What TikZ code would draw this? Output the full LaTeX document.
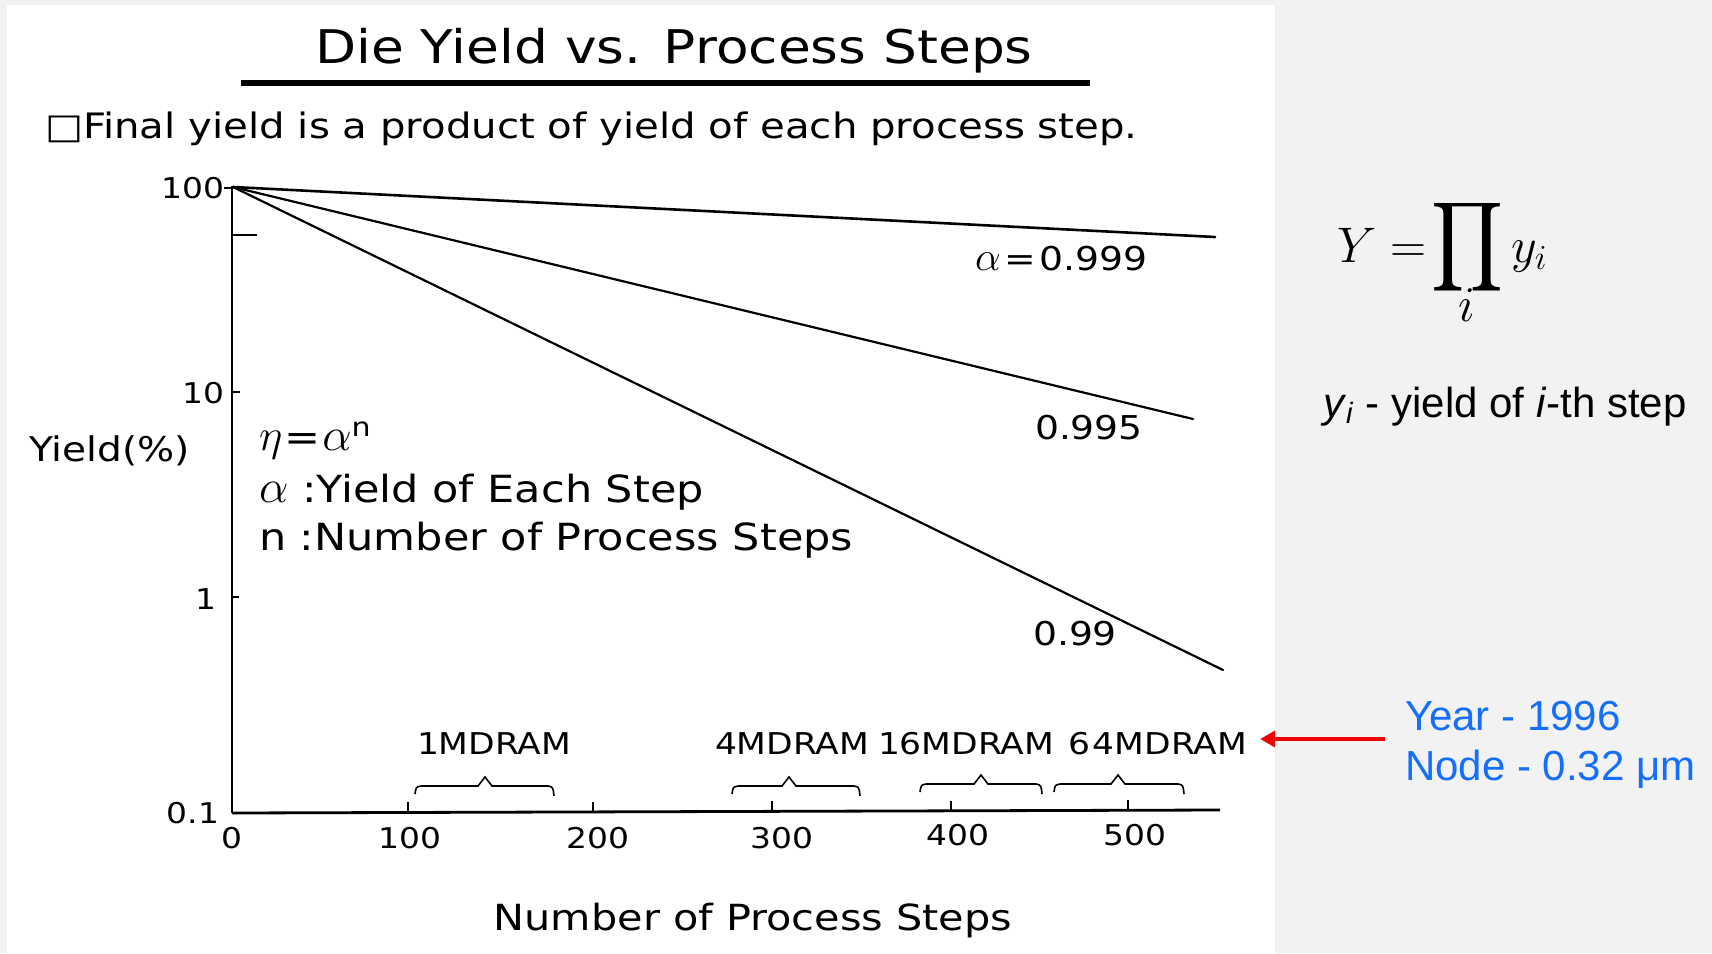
\RequirePackage{fix-cm}
\documentclass[tikz,border=0pt]{standalone}
\usepackage{fontspec}
\usepackage{graphicx}
\usetikzlibrary{arrows.meta}
\setmainfont{Liberation Sans}
\newfontfamily\scanfont[FakeStretch=1.15]{DejaVu Sans}
\newfontfamily\slidefont{Liberation Sans}
\newcommand\fsz[1]{\fontsize{#1}{#1}\selectfont}
\newcommand\galpha{\scalebox{1.25}{$\alpha$}}
\newcommand\geta{\scalebox{1.2}{$\eta$}}
\definecolor{slidegray}{HTML}{F2F2F2}
\definecolor{noteblue}{RGB}{20,110,255}
\definecolor{arrowred}{RGB}{240,0,0}

\begin{document}
\begin{tikzpicture}[x=0.5pt,y=-0.5pt,
  txt/.style={inner sep=0pt, outer sep=0pt},
  scantxt/.style={txt, anchor=base west},
  ylab/.style={txt, anchor=east, font=\scanfont\fsz{14.3pt}},
  xlab/.style={txt, anchor=base, font=\scanfont\fsz{14.3pt}},
  dram/.style={scantxt, font=\scanfont\fsz{15pt}},
  curvelab/.style={scantxt, font=\scanfont\fsz{16.4pt}},
  legend/.style={scantxt, font=\scanfont\fsz{18.7pt}},
  curve/.style={line width=1.1pt, line cap=round},
  axisline/.style={line width=0.9pt},
  tickline/.style={line width=0.7pt},
  bracket/.style={line width=0.8pt, line join=miter},
  mathtxt/.style={txt, font=\fsz{25pt}},
  slidetxt/.style={txt, font=\slidefont\fsz{21pt}}]

% slide background and the white scanned sheet
\fill[slidegray] (0,0) rectangle (1712,953);
\fill[white] (7,5) rectangle (1275,953);
\useasboundingbox (0,0) rectangle (1712,953);

% heading
\node[txt, anchor=base, font=\scanfont\fsz{23.2pt}] (title) at (674,63) {Die Yield vs. Process Steps};
\draw[line width=3pt] (241,83) -- (1090,83);
\node[scantxt, font=\scanfont\fsz{17.5pt}] (sub) at (45,138) {□Final yield is a product of yield of each process step.};

% axes
\coordinate (origin) at (232,813);
\draw[axisline] (232,186) -- (origin);
\draw[line width=1.4pt] (origin) -- (1220,810);
\draw[tickline] (224,188) -- (233,188);
\draw[tickline] (232,235) -- (257,235);
\draw[tickline] (232,392) -- (240,392);
\draw[tickline] (232,597) -- (239,597);
\foreach \tx/\ty in {408/812, 593/812, 772/811, 951/811, 1128/810}
  \draw[tickline] (\tx,\ty) -- (\tx,\ty-10);

% axis labels
\node[ylab] (y100) at (224,188) {100};
\node[ylab] (y10) at (224,393) {10};
\node[ylab] (y1) at (216,599) {1};
\node[ylab] (y01) at (219,813) {0.1};
\node[xlab] (x0) at (232,848) {0};
\node[xlab] (x100) at (410,848) {100};
\node[xlab] (x200) at (598,848) {200};
\node[xlab] (x300) at (782,848) {300};
\node[xlab] (x400) at (958,845) {400};
\node[xlab] (x500) at (1135,845) {500};
\node[scantxt, font=\scanfont\fsz{17pt}] (ytitle) at (29,461) {Yield(\%)};
\node[txt, anchor=base, font=\scanfont\fsz{18pt}] (xtitle) at (753,930) {Number of Process Steps};

% yield curves  eta = alpha^n
\coordinate (start) at (233,187);
\coordinate (e999) at (1215,237);
\coordinate (e995) at (1193,419);
\coordinate (e99) at (1223,670);
\draw[curve, line width=1.3pt] (start) -- (e999);
\draw[curve] (start) -- (e995);
\draw[curve] (start) -- (e99);
\node[curvelab] (l999) at (975,270) {\galpha\kern2pt=\kern1.5pt0.999};
\node[curvelab] (l995) at (1035,439) {0.995};
\node[curvelab] (l99) at (1033,645) {0.99};

% legend
\node[legend] (eqn) at (259,450) {\geta\kern1pt=\kern1pt\galpha\textsuperscript{n}};
\node[legend] (alph) at (259,502) {\galpha\ :Yield of Each Step};
\node[legend] (nsteps) at (259,550) {n :Number of Process Steps};

% DRAM generations and their step ranges
\node[dram] (d1) at (417,754) {1MDRAM};
\node[dram] (d4) at (715,754) {4MDRAM};
\node[dram] (d16) at (878,754) {16MDRAM};
\node[dram] (d64) at (1068,754) {6\kern1.5pt4MDRAM};
\foreach \l/\p/\r/\yy in {415/485/554/786, 732/789/860/786, 920/981/1042/784, 1054/1118/1184/784}
  \draw[bracket] (\l,\yy+8) .. controls (\l+1,\yy+1) .. (\l+6,\yy) -- (\p-7,\yy) -- (\p,\yy-9) -- (\p+7,\yy) -- (\r-6,\yy) .. controls (\r-1,\yy+1) .. (\r,\yy+10);

% product formula
\node[mathtxt, anchor=base west] (lhs) at (1337,262) {$Y =$};
\node[txt] (prod) at (1467,247.5) {\resizebox*{36pt}{50pt}{$\displaystyle\prod$}};
\node[mathtxt, anchor=base west] (yi) at (1511,262) {$y_i$};
\node[mathtxt, anchor=base] (idx) at (1467,321) {$i$};
\node[slidetxt, anchor=base west] (ydef) at (1323,417) {\textit{y}\textsubscript{\textit{i}} - yield of \textit{i}-th step};

% technology note
\node[txt, anchor=west, align=left, text=noteblue, font={\slidefont\fontsize{21pt}{25pt}\selectfont}] (note) at (1405,745) {Year - 1996\\Node - 0.32 μm};
\draw[arrowred, line width=2pt, -{Triangle[length=7.5pt,width=8pt]}, shorten <=10pt, shorten >=6.5pt] ([yshift=3pt]note.west) -- ([yshift=3pt]note.west -| d64.east);
\end{tikzpicture}
\end{document}
